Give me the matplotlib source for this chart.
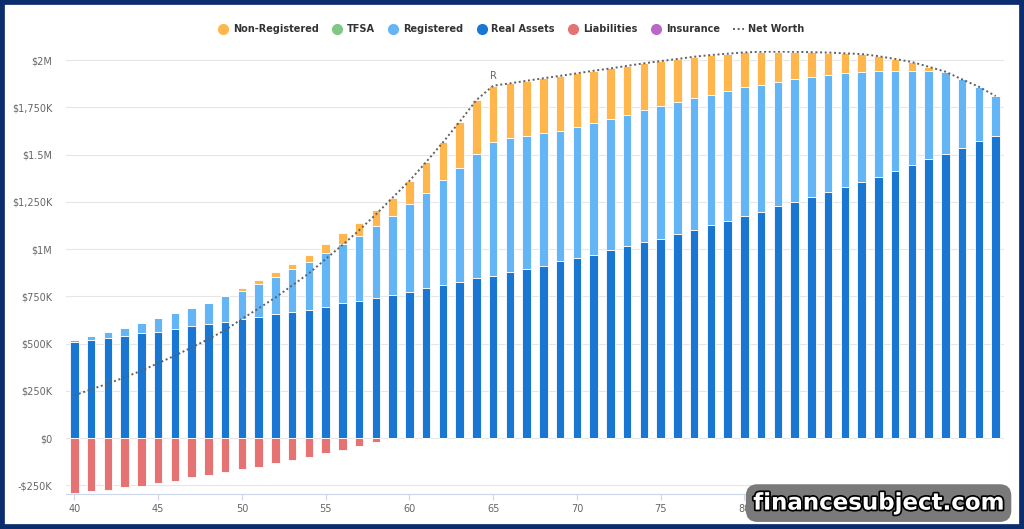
import numpy as np
import matplotlib.pyplot as plt
from matplotlib.lines import Line2D
from matplotlib.patches import Rectangle
import matplotlib.patheffects as pe

# ages on the x axis
ages = list(range(40, 96))

# values in $K
real_assets = [508, 520, 529, 543, 555, 564, 577, 591, 603, 615,
               630, 643, 656, 668, 680, 695, 714, 727, 744, 757,
               773, 792, 810, 825, 845, 860, 878, 896, 913, 936,
               952, 971, 996, 1017, 1037, 1055, 1081, 1104, 1126, 1150,
               1173, 1199, 1227, 1252, 1278, 1304, 1331, 1357, 1384, 1415,
               1445, 1475, 1505, 1537, 1572, 1600]
registered = [9, 19, 32, 39, 53, 70, 84, 96, 114, 137,
              150, 173, 198, 225, 254, 283, 312, 345, 381, 421,
              465, 507, 554, 605, 659, 709, 708, 703, 703, 691,
              696, 697, 694, 694, 697, 701, 696, 696, 691, 688,
              683, 671, 659, 646, 634, 617, 599, 582, 560, 529,
              499, 469, 434, 361, 287, 210]
non_registered = [0, 0, 0, 0, 0, 0, 0, 0, 0, 0,
                  14, 21, 23, 30, 36, 50, 60, 69, 81, 95,
                  123, 162, 201, 244, 285, 296, 291, 292, 288, 290,
                  282, 276, 266, 259, 249, 239, 229, 218, 210, 196,
                  185, 174, 159, 146, 130, 119, 106, 93, 77, 62,
                  46, 21, 0, 0, 0, 0]
liabilities = [-290, -281, -272, -260, -251, -237, -224, -207, -193, -180,
               -163, -150, -133, -115, -98, -80, -64, -41, -22] + [0] * 37
tfsa = [0] * 56
insurance = [0] * 56

ytick_vals = [-250, 0, 250, 500, 750, 1000, 1250, 1500, 1750, 2000]
ytick_labels = ["-$250K", "$0", "$250K", "$500K", "$750K", "$1M",
                "$1,250K", "$1.5M", "$1,750K", "$2M"]
xtick_vals = [40, 45, 50, 55, 60, 65, 70, 75, 80, 85, 90, 95]
# 85..95 sit under the watermark in the original
xtick_labels = ["40", "45", "50", "55", "60", "65", "70", "75", "80", "", "", ""]
retire_age = 65

c_nonreg = "#FFB74D"
c_tfsa = "#81C784"
c_reg = "#64B5F6"
c_real = "#1976D2"
c_liab = "#E57373"
c_ins = "#BA68C8"

x = np.array(ages)
real = np.array(real_assets)
reg = np.array(registered)
nonreg = np.array(non_registered)
liab = np.array(liabilities)
net_worth = real + reg + nonreg + np.array(tfsa) + np.array(insurance) + liab

fig = plt.figure(figsize=(10.24, 5.29), dpi=100)
ax = fig.add_axes([0.0645, 0.0662, 0.916, 0.838])

w = 0.5
kw = dict(width=w, edgecolor="white", linewidth=0.6, zorder=2)
ax.bar(x, real, color=c_real, **kw)
ax.bar(x, reg, bottom=real, color=c_reg, **kw)
ax.bar(x, nonreg, bottom=real + reg, color=c_nonreg, **kw)
ax.bar(x, liab, color=c_liab, **kw)

ax.plot(x, net_worth, color="#606060", linestyle=(0, (1, 1.4)), linewidth=1.4, zorder=3)
i = ages.index(retire_age)
ax.text(retire_age, net_worth[i] + 22, "R", ha="center", va="bottom",
        fontsize=7, color="#666666")

ax.set_xlim(39.5, 95.5)
ax.set_ylim(-295, 2050)
ax.set_yticks(ytick_vals)
ax.set_yticklabels(ytick_labels)
ax.set_xticks(xtick_vals)
ax.set_xticklabels(xtick_labels)
ax.tick_params(axis="y", length=0, labelsize=7, labelcolor="#666666", pad=10)
ax.tick_params(axis="x", length=4, color="#ccd6eb", labelsize=7,
               labelcolor="#666666", pad=3, direction="out")
ax.grid(axis="y", color="#e6e6e6", linewidth=0.8, zorder=0)
ax.set_axisbelow(True)
for s in ["top", "right", "left"]:
    ax.spines[s].set_visible(False)
ax.spines["bottom"].set_color("#ccd6eb")

handles = [
    Line2D([], [], marker="o", linestyle="none", markersize=7, color=c_nonreg),
    Line2D([], [], marker="o", linestyle="none", markersize=7, color=c_tfsa),
    Line2D([], [], marker="o", linestyle="none", markersize=7, color=c_reg),
    Line2D([], [], marker="o", linestyle="none", markersize=7, color=c_real),
    Line2D([], [], marker="o", linestyle="none", markersize=7, color=c_liab),
    Line2D([], [], marker="o", linestyle="none", markersize=7, color=c_ins),
    Line2D([], [], color="#606060", linestyle=(0, (1, 1.4)), linewidth=1.4),
]
names = ["Non-Registered", "TFSA", "Registered", "Real Assets",
         "Liabilities", "Insurance", "Net Worth"]
leg = fig.legend(handles, names, loc="center", bbox_to_anchor=(0.499, 0.945),
                 ncol=7, frameon=False, fontsize=7, handlelength=1.1,
                 handletextpad=0.45, columnspacing=1.35)
for t in leg.get_texts():
    t.set_color("#333333")
    t.set_fontweight("bold")

# frame around the picture
fig.patches.append(Rectangle((0, 0), 1, 1, transform=fig.transFigure,
                             fill=False, edgecolor="#0b2d6e", linewidth=7))

# watermark
wm = fig.text(0.858, 0.049, "financesubject.com", ha="center", va="center",
              fontsize=16.5, fontweight="bold", color="white",
              family="DejaVu Sans", zorder=10,
              bbox=dict(boxstyle="round,pad=0.32,rounding_size=0.5",
                        facecolor="#7a7a7a", edgecolor="none"))
wm.set_path_effects([pe.withStroke(linewidth=2.5, foreground="black")])

fig.savefig("out.png", dpi=100)
